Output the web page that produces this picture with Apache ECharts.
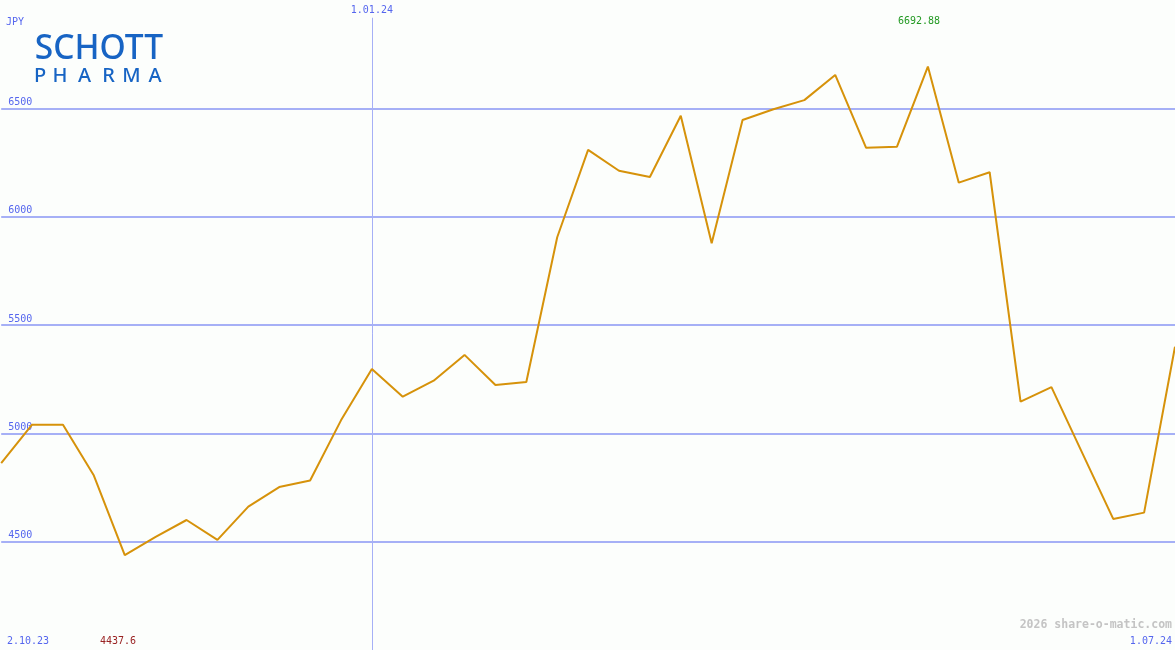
<!DOCTYPE html>
<html>
<head>
<meta charset="utf-8">
<script src="https://cdn.jsdelivr.net/npm/echarts@6/dist/echarts.min.js"></script>
<style>
html,body{margin:0;padding:0;background:#fcfefc;}
#chart{width:1175px;height:650px;}
</style>
</head>
<body>
<div id="chart"></div>
<script>
const dates = ['2.10.23','9.10.23','16.10.23','23.10.23','30.10.23','6.11.23','13.11.23','20.11.23','27.11.23','4.12.23','11.12.23','18.12.23',
  '1.01.24','8.01.24','15.01.24','22.01.24','29.01.24','5.02.24','12.02.24','19.02.24','26.02.24','4.03.24','11.03.24','18.03.24','25.03.24',
  '1.04.24','8.04.24','15.04.24','22.04.24','29.04.24','6.05.24','13.05.24','20.05.24','27.05.24','3.06.24','10.06.24','17.06.24','24.06.24','1.07.24'];
const prices = [4862,5040,5040,4805,4437.6,4522,4600,4508,4662,4752,4782,5060,
  5297,5169,5243,5362,5223,5237,5905,6308,6212,6183,6466,5877,6446,
  6496,6538,6654,6318,6323,6692.88,6157,6205,5146,5213,4909,4605,4634,5400];
const yMin = 4000, yMax = 7000, yStep = 500;
const currency = 'JPY';
const markerDate = '1.01.24';
const watermark = '2026 share-o-matic.com';
const logoTop = 'SCHOTT';
const logoBottom = ['P','H','A','R','M','A'];

const blue = '#5566ee';
const mono = '"DejaVu Sans Mono", monospace';
const minVal = Math.min(...prices), maxVal = Math.max(...prices);

const chart = echarts.init(document.getElementById('chart'), null, {renderer:'canvas'});
const logoX = [40, 60, 84.5, 108.5, 131.5, 155];
const graphics = [
  {type:'text', left:6, top:17, style:{text:currency, fill:blue, font:'10px '+mono}},
  {type:'text', left:7, top:636, style:{text:dates[0], fill:blue, font:'10px '+mono}},
  {type:'text', right:3, top:636, style:{text:dates[dates.length-1], fill:blue, font:'10px '+mono}},
  {type:'text', left:100, top:636, style:{text:String(minVal), fill:'#992222', font:'10px '+mono}},
  {type:'text', left:898, top:16, style:{text:String(maxVal), fill:'#229922', font:'10px '+mono}},
  {type:'text', right:3, top:619, style:{text:watermark, fill:'#c4c4c4', font:'bold 11.5px '+mono}},
  {type:'text', x:99, y:49.5, style:{text:logoTop, fill:'#1764c4', font:'500 33.5px "Noto Sans", sans-serif', align:'center', verticalAlign:'middle'}}
];
logoBottom.forEach((ch,i)=>{
  graphics.push({type:'text', x:logoX[i], y:76, style:{text:ch, fill:'#1764c4', font:'500 20px "Noto Sans", sans-serif', align:'center', verticalAlign:'middle'}});
});

chart.setOption({
  backgroundColor:'#fcfefc',
  animation:false,
  grid:{left:1.2, right:-2, top:-1, bottom:0, containLabel:false},
  xAxis:{type:'category', data:dates, boundaryGap:false, show:true,
    axisLine:{show:false}, axisTick:{show:false}, axisLabel:{show:false}, splitLine:{show:false}},
  yAxis:{type:'value', min:yMin, max:yMax, interval:yStep,
    axisLine:{show:false}, axisTick:{show:false},
    splitLine:{show:true, showMinLine:false, showMaxLine:false, lineStyle:{color:'#a6b0f6', width:2}},
    axisLabel:{inside:true, margin:7, verticalAlign:'bottom', showMinLabel:false, showMaxLabel:false,
      formatter:(v)=>String(v),
      color:blue, fontFamily:mono, fontSize:10, padding:[0,0,1,0]}},
  series:[{
    type:'line', data:prices, showSymbol:false, symbol:'none',
    lineStyle:{color:'#d6920a', width:2}, z:5,
    markLine:{silent:true, symbol:'none', animation:false,
      lineStyle:{color:'#a6b0f6', width:1, type:'solid'},
      label:{show:true, position:'start', formatter:markerDate, color:blue, fontFamily:mono, fontSize:10, distance:2},
      data:[[{coord:[markerDate, 6918]},{coord:[markerDate, yMin]}]]}
  }],
  graphic:graphics
});
</script>
</body>
</html>
